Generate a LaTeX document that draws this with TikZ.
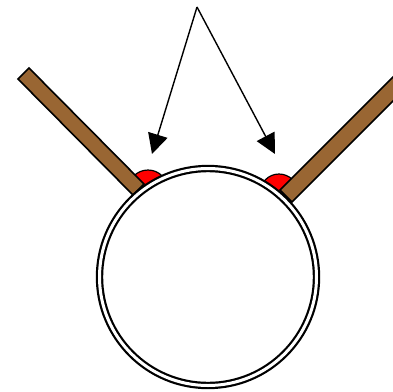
\documentclass[tikz,border=0pt]{standalone}
\usetikzlibrary{arrows.meta}
\definecolor{stickbrown}{RGB}{153,102,51}
\begin{document}
\begin{tikzpicture}[x=1pt,y=-1pt,
  stick/.style={fill=stickbrown,draw=black,line width=1.6pt,line join=miter},
  blob/.style={fill=red,draw=black,line width=1.2pt},
  ring/.style={draw=black,fill=white,line width=2.2pt,double=white,double distance=3pt},
  pointer/.style={draw=black,line width=1.4pt,-{Triangle[length=20pt,width=20pt]}}]
\useasboundingbox (0,0) rectangle (393,391);
\clip (0,0) rectangle (393,391);
% red contact blobs, kept on the inner side of each stick
\begin{scope}
  \clip (60,120) -- (200,120) -- (200,262) -- cycle;
  \path[blob] (148,190) circle[radius=20];
\end{scope}
\begin{scope}
  \clip (200,150) -- (344,150) -- (200,294) -- cycle;
  \path[blob] (279,193) circle[radius=19];
\end{scope}
% sticks
\path[stick] (18,79) -- (29,68) -- (144,184) -- (133,195) -- cycle;
\path[stick] (280,190) -- (292,202) -- (420,74) -- (408,62) -- cycle;
% drum circle
\node[circle,ring,minimum size=217pt,inner sep=0pt] (drum) at (208,277) {};
% arrows
\coordinate (apex) at (197,7);
\coordinate (tipL) at (152,154);
\coordinate (tipR) at (275,154);
\draw[pointer] (apex) -- (tipL);
\draw[pointer] (apex) -- (tipR);
\end{tikzpicture}
\end{document}
